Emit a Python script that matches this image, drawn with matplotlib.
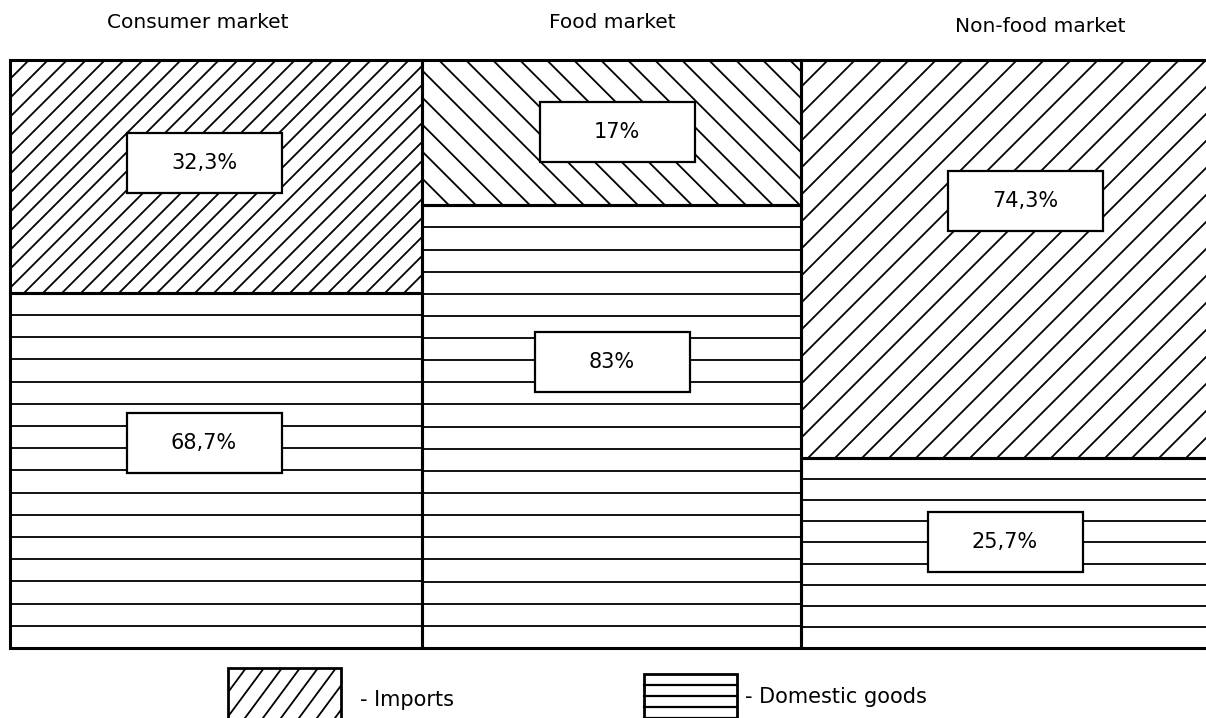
import matplotlib.pyplot as plt
import numpy as np
from matplotlib.collections import LineCollection
from matplotlib.patches import Rectangle

markets = ["Consumer market", "Food market", "Non-food market"]
# bar heights as drawn in the picture (not to scale with the labels)
imports_drawn = [39.6, 24.7, 67.7]
domestic_drawn = [60.4, 75.3, 32.3]
imports_labels = ["32,3%", "17%", "74,3%"]
domestic_labels = ["68,7%", "83%", "25,7%"]
bar_widths = [412, 379, 420]

# label box centres (x in bar units, y in % of bar height)
imp_lab_x = [194, 607, 1015]
imp_lab_y = [82.5, 87.8, 76.0]
dom_lab_x = [194, 602, 995]
dom_lab_y = [34.9, 48.6, 18.0]

W, H = 1206, 718
fig = plt.figure(figsize=(W / 100, H / 100), dpi=100)
fig.patch.set_facecolor("white")
ax = fig.add_axes([10 / W, 70 / H, 1196 / W, 588 / H])
ax.set_xlim(0, 1196)
ax.set_ylim(0, 100)
ax.axis("off")


def hatch(a, patch, x0, x1, y0, y1, kind, gap, lw=1.3, z=2, slope=1.0):
    # gap is in pixels; slope is dy/dx on screen
    t0 = a.transData.transform((0, 0))
    px_x = a.transData.transform((1, 0))[0] - t0[0]
    px_y = a.transData.transform((0, 1))[1] - t0[1]
    segs = []
    if kind == "-":
        n = max(1, int(round((y1 - y0) * px_y / gap)))
        for k in range(1, n):
            y = y0 + (y1 - y0) * k / n
            segs.append([(x0, y), (x1, y)])
    else:
        k = (y1 - y0) * px_y / px_x / slope  # horizontal run over full height
        step = gap / px_x
        if kind == "/":
            cs = np.arange(x0 - k, x1 + step, step)
            for c in cs:
                segs.append([(c, y0), (c + k, y1)])
        else:
            cs = np.arange(x0, x1 + k + step, step)
            for c in cs:
                segs.append([(c, y0), (c - k, y1)])
    lc = LineCollection(segs, colors="black", linewidths=lw, zorder=z)
    a.add_collection(lc)
    lc.set_clip_path(patch)


lefts = np.concatenate([[0], np.cumsum(bar_widths)[:-1]])
dom_bars = ax.bar(lefts, domestic_drawn, bar_widths, align="edge",
                  color="white", linewidth=0, zorder=1, clip_on=False)
imp_bars = ax.bar(lefts, imports_drawn, bar_widths, bottom=domestic_drawn,
                  align="edge", color="white", linewidth=0, zorder=1, clip_on=False)

imp_kind = ["/", "\\", "/"]
imp_gap = [19, 27, 27]
for i in range(3):
    x0, x1 = lefts[i], lefts[i] + bar_widths[i]
    hatch(ax, dom_bars[i], x0, x1, 0, domestic_drawn[i], "-", 22)
    hatch(ax, imp_bars[i], x0, x1, domestic_drawn[i], 100, imp_kind[i], imp_gap[i])

# outlines on top
ax.bar(lefts, domestic_drawn, bar_widths, align="edge", fill=False,
       edgecolor="black", linewidth=2.2, zorder=3, clip_on=False)
ax.bar(lefts, imports_drawn, bar_widths, bottom=domestic_drawn, align="edge",
       fill=False, edgecolor="black", linewidth=2.2, zorder=3, clip_on=False)

# value boxes
bw, bh = 155, 60 / 5.88
for xs, ys, labs in [(imp_lab_x, imp_lab_y, imports_labels),
                     (dom_lab_x, dom_lab_y, domestic_labels)]:
    for x, y, s in zip(xs, ys, labs):
        ax.add_patch(Rectangle((x - bw / 2, y - bh / 2), bw, bh, facecolor="white",
                               edgecolor="black", linewidth=1.6, zorder=4))
        ax.text(x, y, s, ha="center", va="center", fontsize=15, zorder=5)

# market titles
title_x = [198, 612, 1040]
title_y = [22, 22, 27]
for tx, ty, name in zip(title_x, title_y, markets):
    fig.text(tx / W, 1 - ty / H, name, ha="center", va="center", fontsize=14.5)

# legend drawn in pixel space
lg = fig.add_axes([0, 0, 1, 1])
lg.set_xlim(0, W)
lg.set_ylim(0, H)
lg.axis("off")
lg.patch.set_alpha(0)

r1 = Rectangle((228, -5), 113, 55, facecolor="white", edgecolor="none", zorder=1)
lg.add_patch(r1)
hatch(lg, r1, 228, 341, -5, 50, "/", 18, slope=1.35)
lg.add_patch(Rectangle((228, -5), 113, 55, fill=False, edgecolor="black",
                       linewidth=2.0, zorder=3))
lg.text(360, 18, "- Imports", ha="left", va="center", fontsize=15)

r2 = Rectangle((644, -5), 93, 49, facecolor="white", edgecolor="none", zorder=1)
lg.add_patch(r2)
for k in range(1, 5):
    lg.plot([644, 737], [44 - 11 * k, 44 - 11 * k], color="black", lw=1.6, zorder=2)
lg.add_patch(Rectangle((644, -5), 93, 49, fill=False, edgecolor="black",
                       linewidth=2.0, zorder=3))
lg.text(745, 21, "- Domestic goods", ha="left", va="center", fontsize=15)

fig.savefig("out.png", dpi=100, facecolor="white")
